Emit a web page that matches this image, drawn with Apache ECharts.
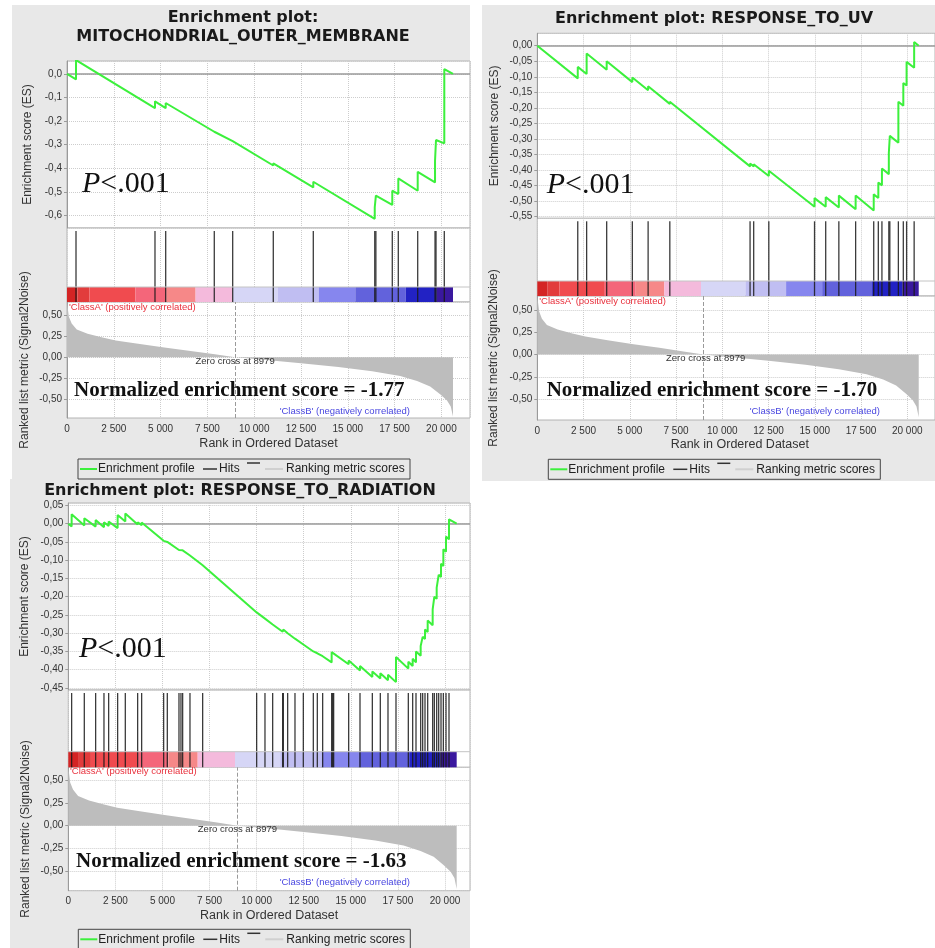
<!DOCTYPE html>
<html><head><meta charset="utf-8">
<script src="https://cdn.jsdelivr.net/npm/echarts@6/dist/echarts.min.js"></script>
<style>html,body{margin:0;padding:0;background:#fff}#c{width:935px;height:948px}</style>
</head><body><div id="c"></div>
<script>
// ---------------- data ----------------
const geneSetTitles = [['Enrichment plot:', 'MITOCHONDRIAL_OUTER_MEMBRANE'], ['Enrichment plot: RESPONSE_TO_UV'], ['Enrichment plot: RESPONSE_TO_RADIATION']];
const pValueLabel = ['P', '<.001'];
const nesValues = [-1.77, -1.70, -1.63];
const datasetSize = 20620;
const zeroCrossRank = 8979;
const classALabel = "'ClassA' (positively correlated)";
const classBLabel = "'ClassB' (negatively correlated)";
const legendLabels = ['Enrichment profile', 'Hits', 'Ranking metric scores'];

// ranked list metric (shared by all three plots)
const metricRanks  = [0, 100, 250, 520, 1100, 1900, 2600, 3800, 5200, 6600, 7900, 8979, 10800, 12500, 14500, 16300, 17800, 18700, 19400, 19950, 20300, 20500, 20620];
const metricValues = [0.65, 0.48, 0.40, 0.33, 0.28, 0.235, 0.20, 0.16, 0.115, 0.075, 0.035, 0, -0.035, -0.07, -0.115, -0.165, -0.22, -0.28, -0.345, -0.44, -0.51, -0.58, -0.70];

// heat-map band boundaries (ranks)
const heatBounds = [0, 560, 1200, 3650, 5320, 6870, 8850, 11250, 13450, 15400, 18100, 19750, 20620];

// MITOCHONDRIAL_OUTER_MEMBRANE
const hitsMito     = [481, 4700, 5272, 7868, 8851, 11020, 13157, 16440, 16500, 17377, 17698, 18734, 19660, 19712, 20155];
const esBeforeMito = [-0.023, -0.145, -0.145, -0.245, -0.285, -0.388, -0.481, -0.614, -0.568, -0.555, -0.509, -0.495, -0.460, -0.372, -0.294];
const esAfterMito  = [0.059, -0.116, -0.123, -0.238, -0.285, -0.379, -0.457, -0.565, -0.516, -0.495, -0.443, -0.415, -0.369, -0.280, 0.021];

// RESPONSE_TO_UV
const hitsUV     = [2187, 2667, 3751, 5138, 5991, 7164, 11502, 11698, 12516, 14987, 15591, 16302, 17209, 18187, 18436, 18631, 19004, 19058, 19520, 19787, 19964, 20373];
const esBeforeUV = [-0.105, -0.091, -0.077, -0.117, -0.143, -0.187, -0.388, -0.388, -0.419, -0.518, -0.518, -0.520, -0.526, -0.530, -0.490, -0.449, -0.413, -0.347, -0.312, -0.193, -0.128, -0.071];
const esAfterUV  = [-0.068, -0.025, -0.050, -0.102, -0.130, -0.180, -0.379, -0.381, -0.402, -0.490, -0.487, -0.482, -0.482, -0.478, -0.440, -0.395, -0.345, -0.290, -0.180, -0.120, -0.052, 0.012];

// RESPONSE_TO_RADIATION
const hitsRad = [177, 850, 1451, 1894, 2142, 2619, 3027, 3681, 3894, 5062, 5257, 5876, 5982, 6071, 6460, 7133, 10000, 10442, 10850, 11381, 11416, 11646, 12035, 12478, 13009, 13221, 13504, 13982, 14035, 14088, 14885, 15487, 16142, 16566, 16973, 17398, 18053, 18283, 18460, 18708, 18814, 18938, 19080, 19345, 19434, 19558, 19664, 19788, 19912, 20053, 20212];
const esBeforeRad = [-0.008, -0.005, -0.008, -0.010, -0.006, -0.012, 0.006, -0.002, -0.004, -0.047, -0.050, -0.072, -0.072, -0.073, -0.087, -0.114, -0.243, -0.260, -0.276, -0.296, -0.293, -0.300, -0.315, -0.331, -0.350, -0.355, -0.363, -0.380, -0.354, -0.353, -0.385, -0.402, -0.420, -0.424, -0.429, -0.434, -0.397, -0.390, -0.380, -0.362, -0.340, -0.316, -0.297, -0.278, -0.240, -0.206, -0.180, -0.146, -0.116, -0.077, -0.043];
const esAfterRad  = [0.026, 0.015, 0.010, 0.004, 0.006, 0.024, 0.028, 0.004, 0.003, -0.042, -0.046, -0.068, -0.069, -0.070, -0.084, -0.110, -0.240, -0.257, -0.272, -0.292, -0.290, -0.297, -0.311, -0.326, -0.345, -0.350, -0.358, -0.352, -0.350, -0.349, -0.375, -0.390, -0.405, -0.410, -0.414, -0.365, -0.378, -0.370, -0.350, -0.335, -0.310, -0.290, -0.265, -0.235, -0.200, -0.175, -0.140, -0.110, -0.070, -0.035, 0.012];

// ---------------- styles / layout ----------------
const SANS = '"Liberation Sans", Arial, sans-serif';
const TITLE_FONT = '"DejaVu Sans", sans-serif';
const SERIF = '"Liberation Serif", "Times New Roman", serif';
const PANEL_BG = '#e8e8e8';
const GREEN = '#3cf03c';
const heatColors = ['#d42424', '#e23c3c', '#f04b4f', '#f4667a', '#f68888', '#f4badc', '#d6d6f6', '#c0bef2', '#8686ee', '#6262dc', '#2222c4', '#3a189e'];

const layouts = [
  { bg:[12,5,458,474], left:67, width:403, xMax:21528,
    esTop:61, esH:167, esMin:-0.653, esMax:0.055, esInt:0.1, esDec:1,
    hitsTop:228, hitsH:74, heatH:15, rankTop:302, rankH:116, rankMin:-0.717, rankMax:0.654,
    titleX:243, titleY:[18,37], esNameX:28, rankNameX:25,
    pX:82, pY:184.5, nesX:74, nesY:390.5, classAX:69, classAY:307.5, classBX:410, classBY:411.7,
    zeroY:361.5, xNameY:444, legend:[78,459] },
  { bg:[482,5,453,476], left:537.3, width:403, xMax:21500,
    esTop:33.3, esH:185, esMin:-0.555, esMax:0.04, esInt:0.05, esDec:2,
    hitsTop:218.3, hitsH:77.7, heatH:15, rankTop:296, rankH:124, rankMin:-0.732, rankMax:0.654,
    titleX:714, titleY:[19], esNameX:495, rankNameX:494,
    pX:546.7, pY:185.5, nesX:546.7, nesY:390.5, classAX:539.3, classAY:301.5, classBX:880, classBY:411.7,
    zeroY:358.7, xNameY:445, legend:[548.3,459.3] },
  { bg:[10,479,460,469], left:68.3, width:401.7, xMax:21327,
    esTop:503, esH:187, esMin:-0.4556, esMax:0.0567, esInt:0.05, esDec:2,
    hitsTop:690, hitsH:77.3, heatH:15.6, rankTop:767.3, rankH:123.4, rankMin:-0.72, rankMax:0.647,
    titleX:240, titleY:[491], esNameX:25, rankNameX:26,
    pX:79, pY:649.5, nesX:76, nesY:861.3, classAX:70, classAY:771.5, classBX:410, classBY:882.3,
    zeroY:829.3, xNameY:915.7, legend:[78.3,929.3] }
];

const hitSets = [hitsMito, hitsUV, hitsRad];
const beforeSets = [esBeforeMito, esBeforeUV, esBeforeRad];
const afterSets = [esAfterMito, esAfterUV, esAfterRad];

function fmtDec(v, d){ return (Math.round(v*1e6)/1e6).toFixed(d).replace('.', ','); }
function fmtRank(v){ return String(Math.round(v)).replace(/\B(?=(\d{3})+(?!\d))/g, ' '); }

const grids = [], xAxes = [], yAxes = [], series = [], graphics = [];
const split = { show:true, lineStyle:{ color:'#cdcdcd', type:'dotted', width:1 } };
const gridStyle = { show:true, backgroundColor:'#ffffff', borderColor:'#b4b4b4', borderWidth:1 };

function txt(x, y, text, st, el){
  const style = Object.assign({ text, fill:'#222', fontSize:12, fontFamily:SANS, align:'left', textAlign:'left', verticalAlign:'middle', textVerticalAlign:'middle' }, st || {});
  if (style.align) style.textAlign = style.align;
  return Object.assign({ type:'text', x, y, silent:true, z:50, style }, el || {});
}
function seg(x1, y1, x2, y2, color, w){
  return { type:'line', silent:true, z:50, shape:{x1, y1, x2, y2}, style:{ stroke:color, lineWidth:w } };
}

const metricPts = metricRanks.map((r, i) => [r, metricValues[i]]);
const heatSegs = heatBounds.slice(0, -1).map((b, i) => [b, heatBounds[i+1], 0]);

layouts.forEach((L, p) => {
  const g0 = p*3, g1 = p*3+1, g2 = p*3+2;
  grids.push(Object.assign({ left:L.left, top:L.esTop, width:L.width, height:L.esH }, gridStyle));
  grids.push(Object.assign({ left:L.left, top:L.hitsTop, width:L.width, height:L.hitsH }, gridStyle));
  grids.push(Object.assign({ left:L.left, top:L.rankTop, width:L.width, height:L.rankH }, gridStyle));

  for (let k = 0; k < 3; k++) {
    xAxes.push({ type:'value', gridIndex:p*3+k, min:0, max:L.xMax, minInterval:2500, maxInterval:2500,
      axisLine:{show:false}, axisTick:{show:false}, splitLine:split,
      axisLabel: k === 2 ? { show:true, formatter:fmtRank, color:'#333', fontSize:10, fontFamily:SANS, margin:6, showMaxLabel:false } : { show:false } });
  }
  yAxes.push({ type:'value', gridIndex:g0, min:L.esMin, max:L.esMax, minInterval:L.esInt, maxInterval:L.esInt,
    axisLine:{show:true, lineStyle:{color:'#9a9a9a'}}, axisTick:{show:true, length:3, lineStyle:{color:'#9a9a9a'}},
    splitLine:split, axisLabel:{ formatter:v => fmtDec(v, L.esDec), color:'#333', fontSize:10, fontFamily:SANS, margin:5, showMinLabel:false, showMaxLabel:false } });
  yAxes.push({ type:'value', gridIndex:g1, min:0, max:1, show:false, splitLine:{show:false} });
  yAxes.push({ type:'value', gridIndex:g2, min:L.rankMin, max:L.rankMax, minInterval:0.25, maxInterval:0.25,
    axisLine:{show:true, lineStyle:{color:'#9a9a9a'}}, axisTick:{show:true, length:3, lineStyle:{color:'#9a9a9a'}},
    splitLine:split, axisLabel:{ formatter:v => fmtDec(v, 2), color:'#333', fontSize:10, fontFamily:SANS, margin:5, showMinLabel:false, showMaxLabel:false } });

  const hits = hitSets[p], bef = beforeSets[p], aft = afterSets[p];
  const esPts = [[0, 0]];
  hits.forEach((r, i) => { esPts.push([r, bef[i]]); esPts.push([r, aft[i]]); });
  esPts.push([datasetSize, 0]);

  series.push({ type:'line', xAxisIndex:g0, yAxisIndex:g0, data:esPts, symbol:'none', showSymbol:false, z:5,
    lineStyle:{ color:GREEN, width:2 }, silent:true,
    markLine:{ silent:true, symbol:'none', label:{show:false}, animation:false,
      lineStyle:{ color:'#9a9a9a', width:1.5, type:'solid' }, data:[{ yAxis:0 }] } });

  series.push({ type:'custom', xAxisIndex:g1, yAxisIndex:g1, data:heatSegs, encode:{ x:[0,1], y:2 }, z:2, silent:true,
    renderItem:(params, api) => {
      const a = api.coord([api.value(0), 0]), b = api.coord([api.value(1), 0]);
      return { type:'rect', shape:{ x:a[0], y:a[1]-L.heatH, width:b[0]-a[0], height:L.heatH }, style:{ fill:heatColors[params.dataIndex] } };
    } });
  series.push({ type:'custom', xAxisIndex:g1, yAxisIndex:g1, data:hits.map(r => [r, 0]), encode:{ x:0, y:1 }, z:4, silent:true,
    renderItem:(params, api) => {
      const b = api.coord([api.value(0), 0]), t = api.coord([api.value(0), 1]);
      return { type:'line', shape:{ x1:b[0], y1:t[1]+3, x2:b[0], y2:b[1] }, style:{ stroke:'rgba(25,25,25,0.85)', lineWidth:1.3 } };
    } });

  series.push({ type:'line', xAxisIndex:g2, yAxisIndex:g2, data:metricPts, symbol:'none', showSymbol:false, z:3, silent:true,
    lineStyle:{ width:0, opacity:0 }, areaStyle:{ color:'#bdbdbd', opacity:1 },
    markLine:{ silent:true, symbol:'none', label:{show:false}, animation:false,
      lineStyle:{ color:'#9a9a9a', width:1, type:'dashed' }, data:[{ xAxis:zeroCrossRank }] } });

  // graphics
  graphics.push({ type:'rect', silent:true, z:-10, shape:{ x:L.bg[0], y:L.bg[1], width:L.bg[2], height:L.bg[3] }, style:{ fill:PANEL_BG } });
  const heatTop = L.hitsTop + L.hitsH - L.heatH;
  graphics.push(seg(L.left, heatTop, L.left + L.width, heatTop, '#c4c4c4', 1));
  geneSetTitles[p].forEach((t, i) => graphics.push(txt(L.titleX, L.titleY[i], t, { fontSize:16, fontWeight:'bold', fontFamily:TITLE_FONT, align:'center', fill:'#1a1a1a' })));
  graphics.push(txt(L.esNameX, L.esTop + L.esH/2, 'Enrichment score (ES)', { fontSize:12, align:'center', fill:'#333' }, { rotation:Math.PI/2 }));
  graphics.push(txt(L.rankNameX, L.rankTop + L.rankH/2, 'Ranked list metric (Signal2Noise)', { fontSize:12, align:'center', fill:'#333' }, { rotation:Math.PI/2 }));
  graphics.push(txt(L.pX, L.pY, '{i|' + pValueLabel[0] + '}{n|' + pValueLabel[1] + '}', {
    rich:{ i:{ fontStyle:'italic', fontSize:30, fontFamily:SERIF, fill:'#111' }, n:{ fontSize:30, fontFamily:SERIF, fill:'#111' } } }));
  graphics.push(txt(L.nesX, L.nesY, 'Normalized enrichment score = ' + nesValues[p].toFixed(2), { fontSize:21, fontWeight:'bold', fontFamily:SERIF, fill:'#111' }));
  graphics.push(txt(L.classAX, L.classAY, classALabel, { fontSize:9.5, fill:'#e8303c' }));
  graphics.push(txt(L.classBX, L.classBY, classBLabel, { fontSize:9.5, fill:'#4a48e0', align:'right' }));
  const zx = L.left + zeroCrossRank / L.xMax * L.width;
  graphics.push(txt(zx, L.zeroY, 'Zero cross at ' + zeroCrossRank, { fontSize:9.5, fill:'#333', align:'center' }));
  graphics.push(txt(L.left + L.width/2 + (p === 1 ? 1 : 0), L.xNameY, 'Rank in Ordered Dataset', { fontSize:12.5, fill:'#333', align:'center' }));
  const x0 = L.legend[0], y0 = L.legend[1], cy = y0 + 10;
  graphics.push({ type:'rect', silent:true, z:49, shape:{ x:x0, y:y0, width:332, height:20 }, style:{ fill:'rgba(0,0,0,0)', stroke:'#444', lineWidth:1 } });
  graphics.push(seg(x0+2, cy, x0+19, cy, GREEN, 2));
  graphics.push(txt(x0+20, cy, legendLabels[0], { fontSize:12 }));
  graphics.push(seg(x0+125, cy, x0+139, cy, '#333', 1.5));
  graphics.push(txt(x0+141, cy, legendLabels[1], { fontSize:12 }));
  graphics.push(seg(x0+169, cy-6, x0+182, cy-6, '#333', 1.5));
  graphics.push(seg(x0+187, cy, x0+205, cy, '#d0d0d0', 2));
  graphics.push(txt(x0+208, cy, legendLabels[2], { fontSize:12 }));
});

const chart = echarts.init(document.getElementById('c'), null, { renderer:'canvas', width:935, height:948 });
chart.setOption({
  animation:false,
  backgroundColor:'#ffffff',
  textStyle:{ fontFamily:SANS },
  grid:grids, xAxis:xAxes, yAxis:yAxes, series,
  graphic:{ elements:graphics }
});
</script>
</body></html>
